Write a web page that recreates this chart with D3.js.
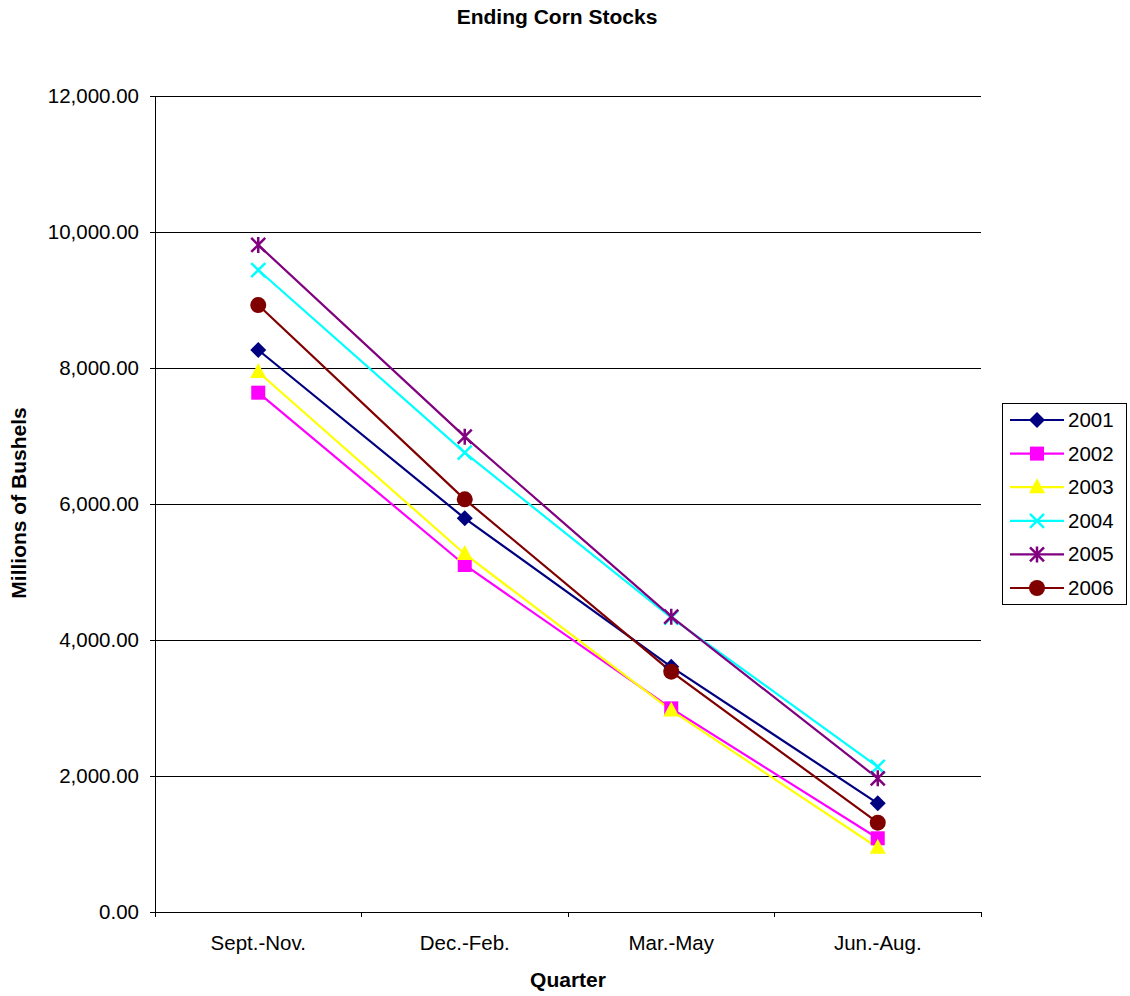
<!DOCTYPE html>
<html><head><meta charset="utf-8">
<script src="https://cdn.jsdelivr.net/npm/d3@7"></script>
<style>body{margin:0;background:#fff}svg{font-family:"Liberation Sans",Arial,sans-serif}</style>
</head><body><svg id="c" width="1130" height="996"></svg>
<script>
const categories = ["Sept.-Nov.", "Dec.-Feb.", "Mar.-May", "Jun.-Aug."];
const seriesNames = ["2001", "2002", "2003", "2004", "2005", "2006"];
const v2001 = [8265, 5789, 3605, 1598];
const v2002 = [7637, 5103, 2995, 1084];
const v2003 = [7941, 5265, 2965, 945];
const v2004 = [9441, 6755, 4330, 2135];
const v2005 = [9809, 6990, 4343, 1966];
const v2006 = [8926, 6069, 3534, 1313];
const yTicks = [0, 2000, 4000, 6000, 8000, 10000, 12000];
const colors = ["#000080", "#FF00FF", "#FFFF00", "#00FFFF", "#800080", "#800000"];
const markers = ["diamond", "square", "triangle", "x", "star", "circle"];
const seriesVals = [v2001, v2002, v2003, v2004, v2005, v2006];

const FS = 20.5, FSB = 21;
const svg = d3.select("#c");
const L = 155, R = 981, T = 96, B = 912;
const x = d3.scaleBand().domain(categories).range([L, R]);
const y = d3.scaleLinear().domain([0, 12000]).range([B, T]);
const fmt = d3.format(",.2f");

// gridlines
svg.append("g").selectAll("line").data(yTicks.filter(d => d > 0)).join("line")
  .attr("x1", L).attr("x2", R).attr("y1", d => y(d)).attr("y2", d => y(d))
  .attr("stroke", "#000").attr("stroke-width", 1).attr("shape-rendering", "crispEdges");

// y axis
const ya = svg.append("g").attr("transform", `translate(${L},0)`)
  .call(d3.axisLeft(y).tickValues(yTicks).tickFormat(fmt).tickSize(5).tickPadding(11));
ya.selectAll("text").attr("font-size", FS).attr("fill", "#000").style("font-family", "Liberation Sans, Arial, sans-serif");
ya.selectAll("line,path").attr("stroke", "#000").attr("shape-rendering", "crispEdges");

// x axis
const xa = svg.append("g").attr("transform", `translate(0,${B})`);
xa.append("line").attr("x1", L).attr("x2", R).attr("y1", 0).attr("y2", 0).attr("stroke", "#000").attr("shape-rendering", "crispEdges");
const bounds = categories.map(c => x(c)).concat([R]);
xa.selectAll("line.t").data(bounds).join("line").attr("class", "t")
  .attr("x1", d => d).attr("x2", d => d).attr("y1", 0).attr("y2", 5).attr("stroke", "#000").attr("shape-rendering", "crispEdges");
xa.selectAll("text").data(categories).join("text")
  .attr("x", d => x(d) + x.bandwidth() / 2).attr("y", 38).attr("text-anchor", "middle")
  .attr("font-size", FS).text(d => d);

// markers
function drawMarker(g, type, color, cx, cy, s) {
  s = s || 1;
  if (type === "diamond") {
    g.append("path").attr("d", `M${cx},${cy - 8 * s}L${cx + 8 * s},${cy}L${cx},${cy + 8 * s}L${cx - 8 * s},${cy}Z`).attr("fill", color);
  } else if (type === "square") {
    g.append("rect").attr("x", cx - 7 * s).attr("y", cy - 7 * s).attr("width", 14 * s).attr("height", 14 * s).attr("fill", color);
  } else if (type === "triangle") {
    g.append("path").attr("d", `M${cx},${cy - 9 * s}L${cx + 8 * s},${cy + 6 * s}L${cx - 8 * s},${cy + 6 * s}Z`).attr("fill", color);
  } else if (type === "x") {
    const r = 7 * s;
    g.append("path").attr("d", `M${cx - r},${cy - r}L${cx + r},${cy + r}M${cx - r},${cy + r}L${cx + r},${cy - r}`).attr("stroke", color).attr("stroke-width", 2.5).attr("fill", "none");
  } else if (type === "star") {
    const r = 7 * s;
    g.append("path").attr("d", `M${cx - r},${cy - r}L${cx + r},${cy + r}M${cx - r},${cy + r}L${cx + r},${cy - r}M${cx},${cy - r - 1}L${cx},${cy + r + 1}`).attr("stroke", color).attr("stroke-width", 2.5).attr("fill", "none");
  } else if (type === "circle") {
    g.append("circle").attr("cx", cx).attr("cy", cy).attr("r", 8 * s).attr("fill", color);
  }
}

const line = d3.line().x((d, i) => x(categories[i]) + x.bandwidth() / 2).y(d => y(d));
seriesVals.forEach((vals, si) => {
  svg.append("path").attr("d", line(vals)).attr("fill", "none").attr("stroke", colors[si]).attr("stroke-width", 2.2);
});
seriesVals.forEach((vals, si) => {
  const g = svg.append("g");
  vals.forEach((v, i) => drawMarker(g, markers[si], colors[si], x(categories[i]) + x.bandwidth() / 2, y(v)));
});

// title & labels
svg.append("text").attr("x", 557).attr("y", 24).attr("text-anchor", "middle").attr("font-size", FSB).attr("font-weight", "bold").text("Ending Corn Stocks");
svg.append("text").attr("x", 568).attr("y", 987).attr("text-anchor", "middle").attr("font-size", FSB).attr("font-weight", "bold").text("Quarter");
svg.append("text").attr("transform", "translate(26,503) rotate(-90)").attr("text-anchor", "middle").attr("font-size", FSB).attr("font-weight", "bold").text("Millions of Bushels");

// legend
const lg = svg.append("g");
lg.append("rect").attr("x", 1002.5).attr("y", 403.5).attr("width", 124).attr("height", 201).attr("fill", "#fff").attr("stroke", "#000");
seriesNames.forEach((n, i) => {
  const ly = 420 + i * 33.6;
  lg.append("line").attr("x1", 1010).attr("x2", 1064).attr("y1", ly).attr("y2", ly).attr("stroke", colors[i]).attr("stroke-width", 2.2);
  drawMarker(lg, markers[i], colors[i], 1037, ly);
  lg.append("text").attr("x", 1068).attr("y", ly + 7).attr("font-size", FS).text(n);
});
</script></body></html>
